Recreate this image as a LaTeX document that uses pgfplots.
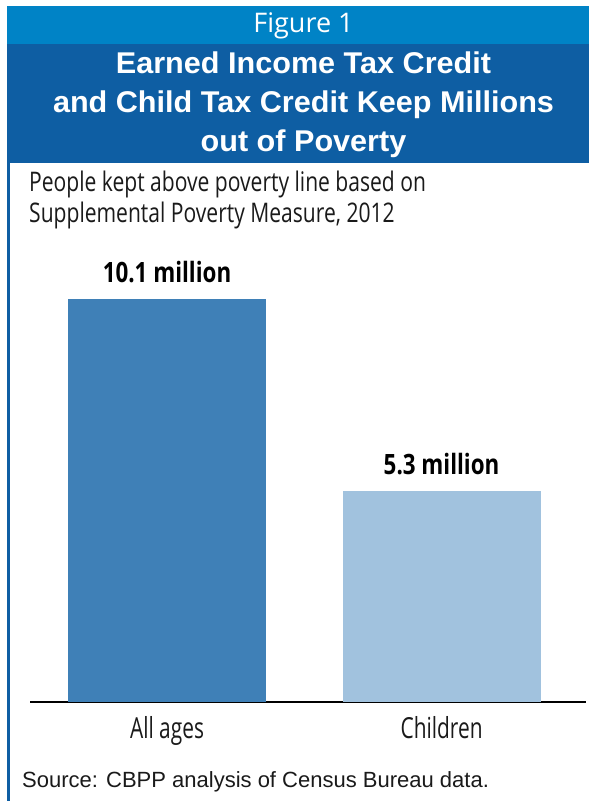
\documentclass[border=0pt]{standalone}
\usepackage{pgfplots}
\pgfplotsset{compat=1.18}
\usepackage{fontspec}
\setmainfont{Liberation Sans}
\newfontfamily\subfont[FakeStretch=0.78]{Open Sans}
\newfontfamily\catfont[FakeStretch=0.72]{Open Sans}
\newfontfamily\valfont[FakeStretch=0.80]{Open Sans}
\newfontfamily\figfont{Open Sans}
\newfontfamily\titlefont[FakeStretch=1.02]{Liberation Sans}
\definecolor{hdrlight}{HTML}{0083C6}
\definecolor{hdrdark}{HTML}{0E5EA3}
\definecolor{bardark}{HTML}{3F80B7}
\definecolor{barlight}{HTML}{A1C2DE}
\definecolor{txt}{HTML}{1A1A1A}
\begin{document}
\begin{tikzpicture}[x=1bp,y=1bp]
\useasboundingbox (0,0) rectangle (589,801);
\fill[white] (0,0) rectangle (589,801);
\fill[hdrlight] (7,795) rectangle (589,757);
\fill[hdrdark] (7,757) rectangle (589,638);
\fill[hdrdark] (7,0) rectangle (10,638);
\node[white, anchor=base, inner sep=0pt, font=\figfont\fontsize{27bp}{30bp}\selectfont] at (303.5,768) {Figure 1};
\node[white, anchor=base, inner sep=0pt, font=\titlefont\bfseries\fontsize{30bp}{36bp}\selectfont] at (303.5,727) {Earned Income Tax Credit};
\node[white, anchor=base, inner sep=0pt, font=\titlefont\bfseries\fontsize{30bp}{36bp}\selectfont] at (303.5,688) {and Child Tax Credit Keep Millions};
\node[white, anchor=base, inner sep=0pt, font=\titlefont\bfseries\fontsize{30bp}{36bp}\selectfont] at (303.5,649) {out of Poverty};
\node[txt, anchor=base west, inner sep=0pt, font=\subfont\fontsize{27bp}{30bp}\selectfont] at (29,609) {People kept above poverty line based on};
\node[txt, anchor=base west, inner sep=0pt, font=\subfont\fontsize{27bp}{30bp}\selectfont] at (29,578) {Supplemental Poverty Measure, 2012};
\node[txt, anchor=base west, inner sep=0pt, font=\fontsize{22bp}{26bp}\selectfont] at (22,13) {Source: CBPP analysis of Census Bureau data.};
\coordinate (axorigin) at (30,99);
\begin{axis}[
  at={(axorigin)}, anchor=south west,
  scale only axis, width=556bp, height=403bp,
  xmin=-0.499, xmax=1.526, ymin=0, ymax=10.1,
  axis y line=none, axis x line*=bottom,
  axis line style={-, line width=2.2bp, black},
  xtick={0,1}, xticklabels={All ages, Children},
  major tick length=0pt,
  xticklabel style={font=\catfont\fontsize{29bp}{32bp}\selectfont, color=txt, anchor=base, inner sep=0pt, yshift=-37bp},
  ybar, bar width=198bp,
  clip=false,
  point meta=explicit symbolic,
  nodes near coords,
  nodes near coords style={font=\valfont\bfseries\fontsize{28bp}{30bp}\selectfont, color=black, anchor=base, inner sep=0pt, yshift=16bp},
]
\addplot[fill=bardark, draw=none, bar shift=0pt] coordinates {(0,10.1) [10.1 million]};
\addplot[fill=barlight, draw=none, bar shift=0pt] coordinates {(1,5.3) [5.3 million]};
\end{axis}
\end{tikzpicture}
\end{document}
